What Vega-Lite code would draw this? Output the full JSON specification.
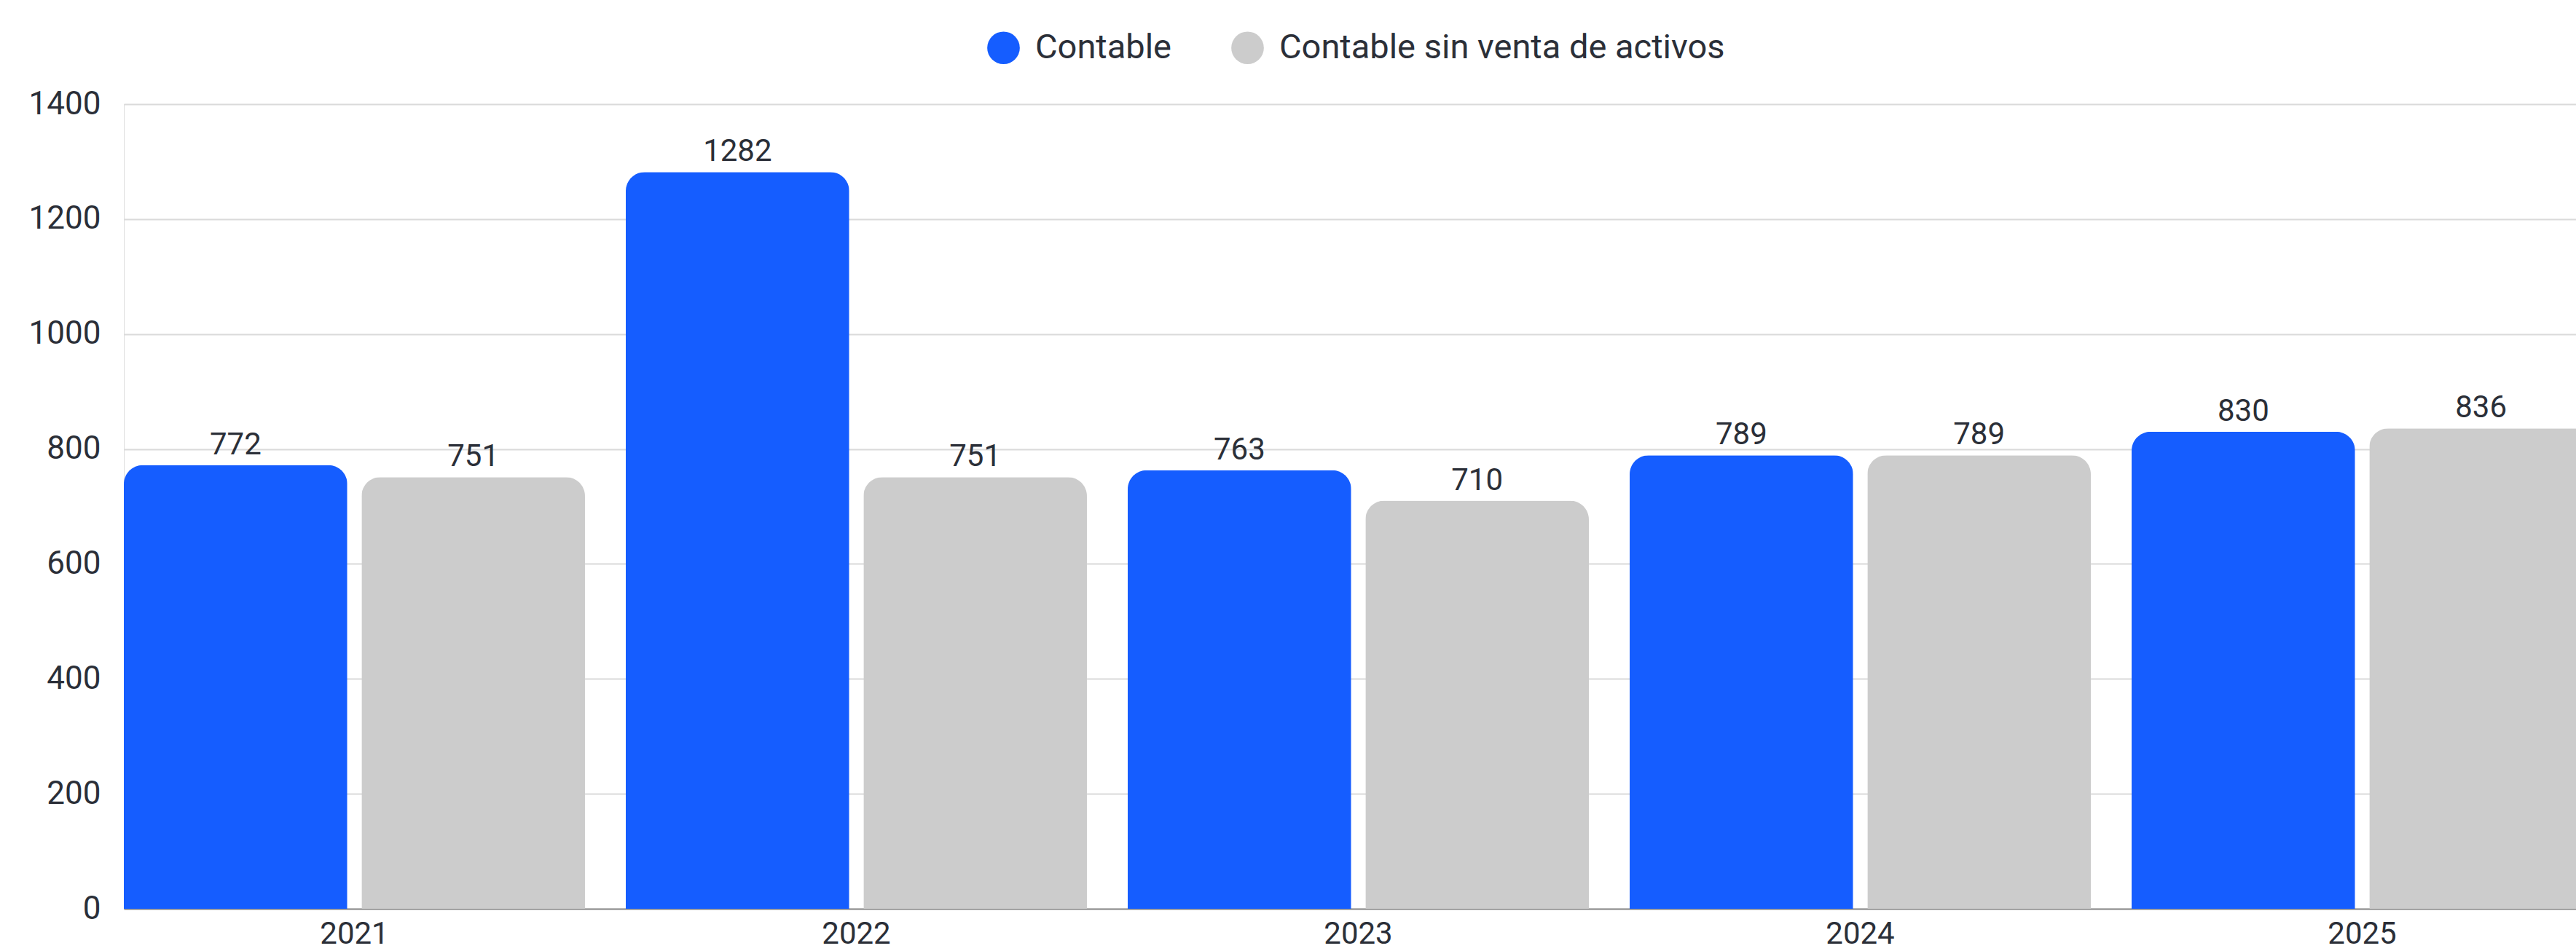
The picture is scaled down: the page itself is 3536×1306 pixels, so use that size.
{
  "$schema": "https://vega.github.io/schema/vega-lite/v6.json",
  "autosize": {"type": "none"},
  "width": 3366,
  "height": 1105,
  "padding": {"left": 170, "top": 143, "right": 0, "bottom": 58},
  "background": "white",
  "data": {
    "values": [
      {"year": "2021", "serie": "Contable", "valor": 772},
      {"year": "2021", "serie": "Contable sin venta de activos", "valor": 751},
      {"year": "2022", "serie": "Contable", "valor": 1282},
      {"year": "2022", "serie": "Contable sin venta de activos", "valor": 751},
      {"year": "2023", "serie": "Contable", "valor": 763},
      {"year": "2023", "serie": "Contable sin venta de activos", "valor": 710},
      {"year": "2024", "serie": "Contable", "valor": 789},
      {"year": "2024", "serie": "Contable sin venta de activos", "valor": 789},
      {"year": "2025", "serie": "Contable", "valor": 830},
      {"year": "2025", "serie": "Contable sin venta de activos", "valor": 836}
    ]
  },
  "encoding": {
    "x": {
      "field": "year",
      "type": "nominal",
      "title": null,
      "scale": {"range": [0, 3389], "paddingInner": 0.0813, "paddingOuter": 0},
      "axis": {
        "labelAngle": 0,
        "labelFont": "Roboto",
        "labelFontSize": 42,
        "labelColor": "#2b2f38",
        "labelPadding": 14,
        "ticks": false,
        "grid": false,
        "domain": true,
        "domainColor": "#8a8a8a",
        "domainWidth": 2
      }
    },
    "xOffset": {
      "field": "serie",
      "type": "nominal",
      "sort": ["Contable", "Contable sin venta de activos"],
      "scale": {"paddingInner": 0.06, "paddingOuter": 0}
    },
    "y": {
      "field": "valor",
      "type": "quantitative",
      "title": null,
      "scale": {"domain": [0, 1400]},
      "axis": {
        "values": [0, 200, 400, 600, 800, 1000, 1200, 1400],
        "format": "d",
        "labelFont": "Roboto",
        "labelFontSize": 44,
        "labelColor": "#2b2f38",
        "labelPadding": 32,
        "ticks": false,
        "domain": false,
        "grid": true,
        "gridColor": "#dadada",
        "gridWidth": 2
      }
    }
  },
  "layer": [
    {
      "mark": {"type": "bar", "cornerRadiusTopLeft": 26, "cornerRadiusTopRight": 26},
      "encoding": {
        "color": {
          "field": "serie",
          "type": "nominal",
          "scale": {"domain": ["Contable", "Contable sin venta de activos"], "range": ["#155dff", "#cccccc"]},
          "legend": {
            "title": null,
            "orient": "none",
            "direction": "horizontal",
            "legendX": 1184,
            "legendY": -101,
            "padding": 0,
            "symbolType": "circle",
            "symbolSize": 2000,
            "symbolStrokeWidth": 0,
            "symbolOpacity": 1,
            "labelFont": "Roboto",
            "labelFontSize": 47,
            "labelColor": "#2b2f38",
            "labelLimit": 0,
            "labelOffset": 20,
            "columnPadding": 80
          }
        }
      }
    },
    {
      "mark": {"type": "text", "baseline": "bottom", "dy": -6, "font": "Roboto", "fontSize": 42, "color": "#2b2f38"},
      "encoding": {"text": {"field": "valor", "type": "quantitative"}}
    }
  ]
}
